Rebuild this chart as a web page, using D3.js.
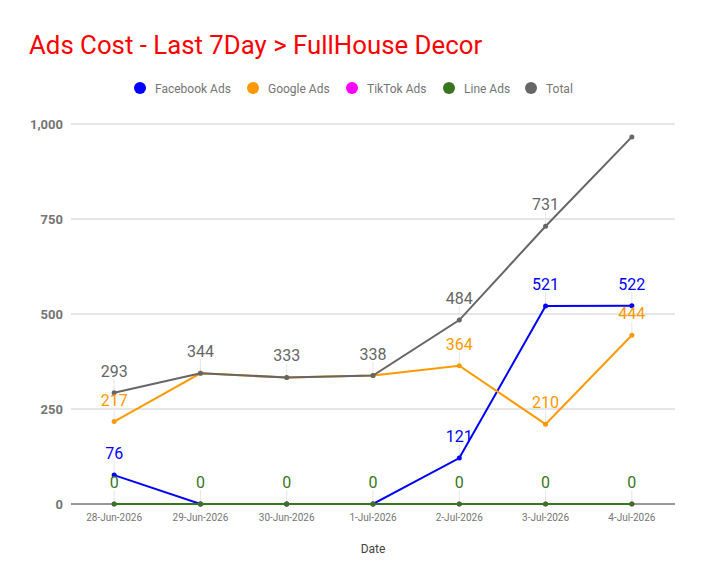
<!DOCTYPE html>
<html>
<head>
<meta charset="utf-8">
<script src="https://cdn.jsdelivr.net/npm/d3@7"></script>
<style>
  body { margin: 0; background: #fff; font-family: Roboto, sans-serif; }
</style>
</head>
<body>
<div class="canvas"></div>
<script>
// data
const dates = ['28-Jun-2026', '29-Jun-2026', '30-Jun-2026', '1-Jul-2026', '2-Jul-2026', '3-Jul-2026', '4-Jul-2026'];
const facebookAds = [76, 0, 0, 0, 121, 521, 522];
const googleAds = [217, 344, 333, 338, 364, 210, 444];
const tiktokAds = [0, 0, 0, 0, 0, 0, 0];
const lineAds = [0, 0, 0, 0, 0, 0, 0];
const total = [293, 344, 333, 338, 484, 731, 966];
const yTicks = [0, 250, 500, 750, 1000];

const series = [
    { name: 'Facebook Ads', values: facebookAds, color: '#0000ff' },
    { name: 'Google Ads', values: googleAds, color: '#ff9900' },
    { name: 'TikTok Ads', values: tiktokAds, color: '#ff00ff' },
    { name: 'Line Ads', values: lineAds, color: '#38761d' },
    { name: 'Total', values: total, color: '#666666' }
];

const dims = { width: 704, height: 585 };
const plot = { left: 71, right: 675, top: 124, bottom: 504 };

const svg = d3.select('.canvas')
    .append('svg')
    .attr('width', dims.width)
    .attr('height', dims.height);

// title
svg.append('text')
    .attr('x', 29).attr('y', 54)
    .attr('fill', '#ff0000')
    .attr('font-size', 25.8)
    .text('Ads Cost - Last 7Day > FullHouse Decor');

// legend
const legendX = [140, 253, 352, 449, 531];
const legend = svg.selectAll('.legend')
    .data(series)
    .enter().append('g')
    .attr('transform', (d, i) => `translate(${legendX[i]},88)`);
legend.append('circle').attr('r', 6).attr('fill', d => d.color);
legend.append('text')
    .attr('x', 15).attr('y', 4.5)
    .attr('font-size', 12)
    .attr('fill', '#757575')
    .text(d => d.name);

// scales
const x = d3.scaleBand().domain(dates).range([plot.left, plot.right]);
const y = d3.scaleLinear().domain([0, 1000]).range([plot.bottom, plot.top]);
const cx = d => x(d) + x.bandwidth() / 2;

// gridlines
svg.selectAll('.grid')
    .data(yTicks.filter(t => t > 0))
    .enter().append('line')
    .attr('x1', plot.left).attr('x2', plot.right)
    .attr('y1', d => y(d)).attr('y2', d => y(d))
    .attr('stroke', '#cccccc');

// y axis labels
svg.selectAll('.ylab')
    .data(yTicks)
    .enter().append('text')
    .attr('x', 63).attr('y', d => y(d) + 4.5)
    .attr('text-anchor', 'end')
    .attr('font-size', 13)
    .attr('font-weight', 'bold')
    .attr('fill', '#757575')
    .text(d => d3.format(',')(d));

// x axis labels
svg.selectAll('.xlab')
    .data(dates)
    .enter().append('text')
    .attr('x', d => cx(d)).attr('y', 521)
    .attr('text-anchor', 'middle')
    .attr('font-size', 10)
    .attr('fill', '#757575')
    .text(d => d);

svg.append('text')
    .attr('x', 373).attr('y', 553)
    .attr('text-anchor', 'middle')
    .attr('font-size', 12)
    .attr('fill', '#444444')
    .text('Date');

// labels: hide ones duplicated by others (zeros, Google = Total), and the last Total
const labels = [];
series.forEach((s, si) => {
    s.values.forEach((v, i) => {
        if (v === 0 && s.name !== 'Line Ads') return;
        if (s.name === 'Google Ads' && v === total[i]) return;
        if (s.name === 'Total' && i === dates.length - 1) return;
        labels.push({ date: dates[i], value: v, color: s.color });
    });
});

// leader lines
svg.selectAll('.leader')
    .data(labels)
    .enter().append('line')
    .attr('x1', d => cx(d.date)).attr('x2', d => cx(d.date))
    .attr('y1', d => y(d.value) - 14).attr('y2', d => y(d.value))
    .attr('stroke', '#e6e6e6');

// baseline
svg.append('line')
    .attr('x1', plot.left).attr('x2', plot.right)
    .attr('y1', plot.bottom).attr('y2', plot.bottom)
    .attr('stroke', '#333333');

// lines
const line = d3.line()
    .x((d, i) => cx(dates[i]))
    .y(d => y(d));

const groups = svg.selectAll('.series')
    .data(series)
    .enter().append('g');

groups.append('path')
    .attr('d', d => line(d.values))
    .attr('fill', 'none')
    .attr('stroke', d => d.color)
    .attr('stroke-width', 2);

groups.selectAll('circle')
    .data(d => d.values.map((v, i) => ({ v, i, color: d.color })))
    .enter().append('circle')
    .attr('cx', d => cx(dates[d.i]))
    .attr('cy', d => y(d.v))
    .attr('r', 2.5)
    .attr('fill', d => d.color);

// value labels
svg.selectAll('.vlab')
    .data(labels)
    .enter().append('text')
    .attr('x', d => cx(d.date))
    .attr('y', d => y(d.value) - 16)
    .attr('text-anchor', 'middle')
    .attr('font-size', 16)
    .attr('fill', d => d.color)
    .text(d => d.value);
</script>
</body>
</html>
